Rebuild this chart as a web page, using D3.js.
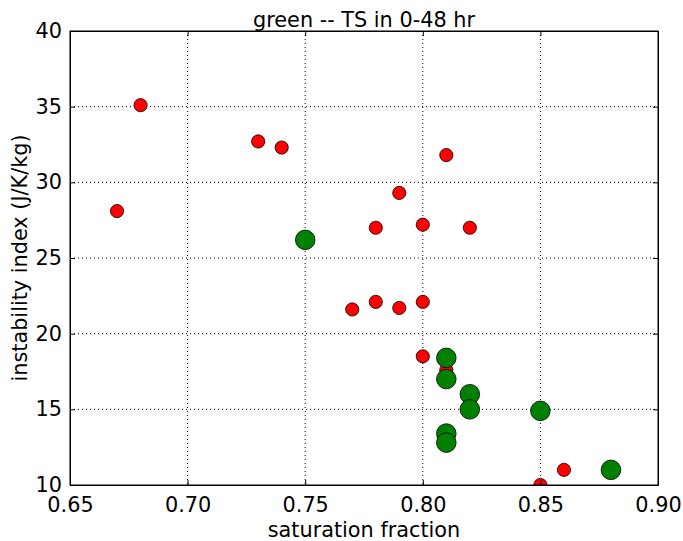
<!DOCTYPE html>
<html>
<head>
<meta charset="utf-8">
<script src="https://cdn.jsdelivr.net/npm/d3@7"></script>
<style>
  body { margin: 0; background: #fff; }
  text { font-family: "DejaVu Sans", sans-serif; fill: #000; }
</style>
</head>
<body>
<div id="chart"></div>
<script>
// red points (all cases)
var redX = [0.68, 0.67, 0.73, 0.74, 0.81, 0.79, 0.78, 0.80, 0.82, 0.77, 0.78, 0.79, 0.80, 0.80, 0.81, 0.85, 0.86];
var redY = [35.1, 28.1, 32.7, 32.3, 31.8, 29.3, 27.0, 27.2, 27.0, 21.6, 22.1, 21.7, 22.1, 18.5, 17.6, 10.0, 11.0];
// green points (TS in 0-48 hr)
var greenX = [0.75, 0.81, 0.81, 0.82, 0.82, 0.85, 0.81, 0.81, 0.88];
var greenY = [26.2, 18.4, 17.0, 16.0, 15.0, 14.9, 13.4, 12.8, 11.0];

var xTicks = [0.65, 0.70, 0.75, 0.80, 0.85, 0.90];
var yTicks = [10, 15, 20, 25, 30, 35, 40];

var width = 683, height = 541;
var margin = {left: 70, right: 25, top: 31, bottom: 56};
var pw = width - margin.left - margin.right;
var ph = height - margin.top - margin.bottom;
var fs = "20.8px";

var svg = d3.select("#chart").append("svg")
  .attr("width", width)
  .attr("height", height);

var x = d3.scaleLinear().domain([0.65, 0.90]).range([0, pw]);
var y = d3.scaleLinear().domain([10, 40]).range([ph, 0]);

var g = svg.append("g").attr("transform", "translate(" + margin.left + "," + margin.top + ")");

svg.append("defs").append("clipPath").attr("id", "clip")
  .append("rect").attr("width", pw).attr("height", ph);

// grid
g.selectAll(".vgrid").data(xTicks.slice(1, -1)).enter().append("line")
  .attr("x1", function(d) { return x(d); }).attr("x2", function(d) { return x(d); })
  .attr("y1", 0).attr("y2", ph)
  .style("stroke", "#000").style("stroke-width", 1).style("stroke-dasharray", "1,3");
g.selectAll(".hgrid").data(yTicks.slice(1, -1)).enter().append("line")
  .attr("y1", function(d) { return y(d); }).attr("y2", function(d) { return y(d); })
  .attr("x1", 0).attr("x2", pw)
  .style("stroke", "#000").style("stroke-width", 1).style("stroke-dasharray", "1,3");

var pts = g.append("g").attr("clip-path", "url(#clip)");

var red = redX.map(function(d, i) { return {x: d, y: redY[i]}; });
var green = greenX.map(function(d, i) { return {x: d, y: greenY[i]}; });

pts.selectAll(".red").data(red).enter().append("circle")
  .attr("cx", function(d) { return x(d.x); })
  .attr("cy", function(d) { return y(d.y); })
  .attr("r", 6.6)
  .style("fill", "#ff0000").style("stroke", "#000").style("stroke-width", 0.8);

pts.selectAll(".green").data(green).enter().append("circle")
  .attr("cx", function(d) { return x(d.x); })
  .attr("cy", function(d) { return y(d.y); })
  .attr("r", 9.8)
  .style("fill", "#008000").style("stroke", "#000").style("stroke-width", 0.8);

// axes (ticks inside, classic style)
var xb = g.append("g").attr("transform", "translate(0," + ph + ")")
  .call(d3.axisBottom(x).tickValues(xTicks).tickFormat(d3.format(".2f")).tickSizeInner(-5).tickSizeOuter(0).tickPadding(12));
var xt = g.append("g")
  .call(d3.axisTop(x).tickValues(xTicks).tickFormat("").tickSizeInner(-5).tickSizeOuter(0));
var yl = g.append("g")
  .call(d3.axisLeft(y).tickValues(yTicks).tickSizeInner(-5).tickSizeOuter(0).tickPadding(8));
var yr = g.append("g").attr("transform", "translate(" + pw + ",0)")
  .call(d3.axisRight(y).tickValues(yTicks).tickFormat("").tickSizeInner(-5).tickSizeOuter(0));

[xb, xt, yl, yr].forEach(function(a) {
  a.selectAll("text").style("font-family", "DejaVu Sans").style("font-size", fs).style("fill", "#000");
  a.selectAll("line").style("stroke", "#000");
  a.select(".domain").style("stroke", "#000").style("stroke-width", 1);
});

// frame
g.append("rect").attr("width", pw).attr("height", ph)
  .style("fill", "none").style("stroke", "#000").style("stroke-width", 1);

svg.append("text").attr("x", margin.left + pw / 2).attr("y", 27)
  .attr("text-anchor", "middle").style("font-size", fs)
  .text("green -- TS in 0-48 hr");

svg.append("text").attr("x", margin.left + pw / 2).attr("y", 537)
  .attr("text-anchor", "middle").style("font-size", fs)
  .text("saturation fraction");

svg.append("text")
  .attr("transform", "translate(27," + (margin.top + ph / 2) + ") rotate(-90)")
  .attr("text-anchor", "middle").style("font-size", fs)
  .text("instability index (J/K/kg)");
</script>
</body>
</html>
